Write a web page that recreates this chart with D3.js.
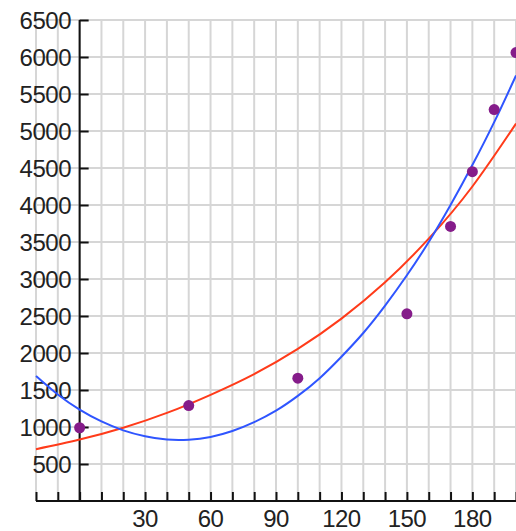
<!DOCTYPE html>
<html>
<head>
<meta charset="utf-8">
<script src="https://cdn.jsdelivr.net/npm/d3@7"></script>
<style>
  html, body { margin: 0; padding: 0; background: #fff; }
  svg { display: block; }
  text { font-family: "Liberation Sans", Arial, sans-serif; fill: #222; }
</style>
</head>
<body>
<svg id="chart" width="516" height="531"></svg>
<script>
// Observations
const obsX = [0, 50, 100, 150, 170, 180, 190, 200];
const obsY = [990, 1290, 1660, 2530, 3710, 4450, 5290, 6060];

// Exponential trend (red), sampled every 20
const redX = [-20, 0, 20, 40, 60, 80, 100, 120, 140, 160, 180, 200];
const redY = [700, 830, 990, 1190, 1435, 1715, 2055, 2465, 2955, 3545, 4250, 5100];

// Polynomial trend (blue), sampled every 10
const blueX = [-20, -10, 0, 10, 20, 30, 40, 50, 60, 70, 80, 90, 100, 110, 120, 130, 140, 150, 160, 170, 180, 190, 200];
const blueY = [1690, 1440, 1235, 1075, 955, 875, 830, 828, 865, 945, 1065, 1220, 1420, 1660, 1950, 2270, 2640, 3050, 3500, 4000, 4540, 5120, 5750];

// Axis ticks
const xGrid = d3.range(-20, 201, 10);
const xLabels = [30, 60, 90, 120, 150, 180];
const yTicks = d3.range(500, 6501, 500);

const svg = d3.select("#chart");
const x = d3.scaleLinear().domain([-20, 200]).range([36, 516]);
const y = d3.scaleLinear().domain([0, 6500]).range([501, 20]);

// Grid
const grid = svg.append("g").attr("stroke", "#d6d6d6").attr("stroke-width", 2);
grid.selectAll(".vg").data(xGrid).join("line")
  .attr("x1", d => x(d)).attr("x2", d => x(d))
  .attr("y1", y(6500)).attr("y2", y(0));
grid.selectAll(".hg").data(yTicks).join("line")
  .attr("x1", x(-20)).attr("x2", x(200))
  .attr("y1", d => y(d)).attr("y2", d => y(d));

// Y axis (ticks point into the plot)
const yAxis = d3.axisRight(y).tickValues(yTicks).tickSize(9).tickFormat("");
const gy = svg.append("g").attr("transform", `translate(${x(0)},0)`).call(yAxis);
gy.select(".domain").attr("d", `M0,${y(6500)}V${y(0)}`);
gy.selectAll("path, line").attr("stroke", "#111").attr("stroke-width", 2);

svg.append("g").selectAll("text").data(yTicks).join("text")
  .attr("x", 71).attr("y", d => y(d))
  .attr("text-anchor", "end").attr("dominant-baseline", "central")
  .attr("font-size", 24).attr("letter-spacing", -0.5)
  .text(d => d);

// X axis (ticks point up)
const xAxis = d3.axisTop(x).tickValues(xGrid).tickSize(9).tickFormat("");
const gx = svg.append("g").attr("transform", `translate(0,${y(0)})`).call(xAxis);
gx.select(".domain").attr("d", `M${x(-20)},0H${x(200)}`);
gx.selectAll("path, line").attr("stroke", "#111").attr("stroke-width", 2);

svg.append("g").selectAll("text").data(xLabels).join("text")
  .attr("x", d => x(d)).attr("y", 518)
  .attr("text-anchor", "middle").attr("dominant-baseline", "central")
  .attr("font-size", 24).attr("letter-spacing", -0.5)
  .text(d => d);

// Trend lines
const line = d3.line().x(d => x(d[0])).y(d => y(d[1])).curve(d3.curveNatural);
svg.append("path")
  .datum(redX.map((v, i) => [v, redY[i]]))
  .attr("fill", "none").attr("stroke", "#ff3b1a").attr("stroke-width", 2)
  .attr("d", line);
svg.append("path")
  .datum(blueX.map((v, i) => [v, blueY[i]]))
  .attr("fill", "none").attr("stroke", "#2f55ff").attr("stroke-width", 2)
  .attr("d", line);

// Points
svg.append("g").selectAll("circle").data(obsX.map((v, i) => [v, obsY[i]])).join("circle")
  .attr("cx", d => x(d[0])).attr("cy", d => y(d[1])).attr("r", 5.5)
  .attr("fill", "#851c8a");
</script>
</body>
</html>
